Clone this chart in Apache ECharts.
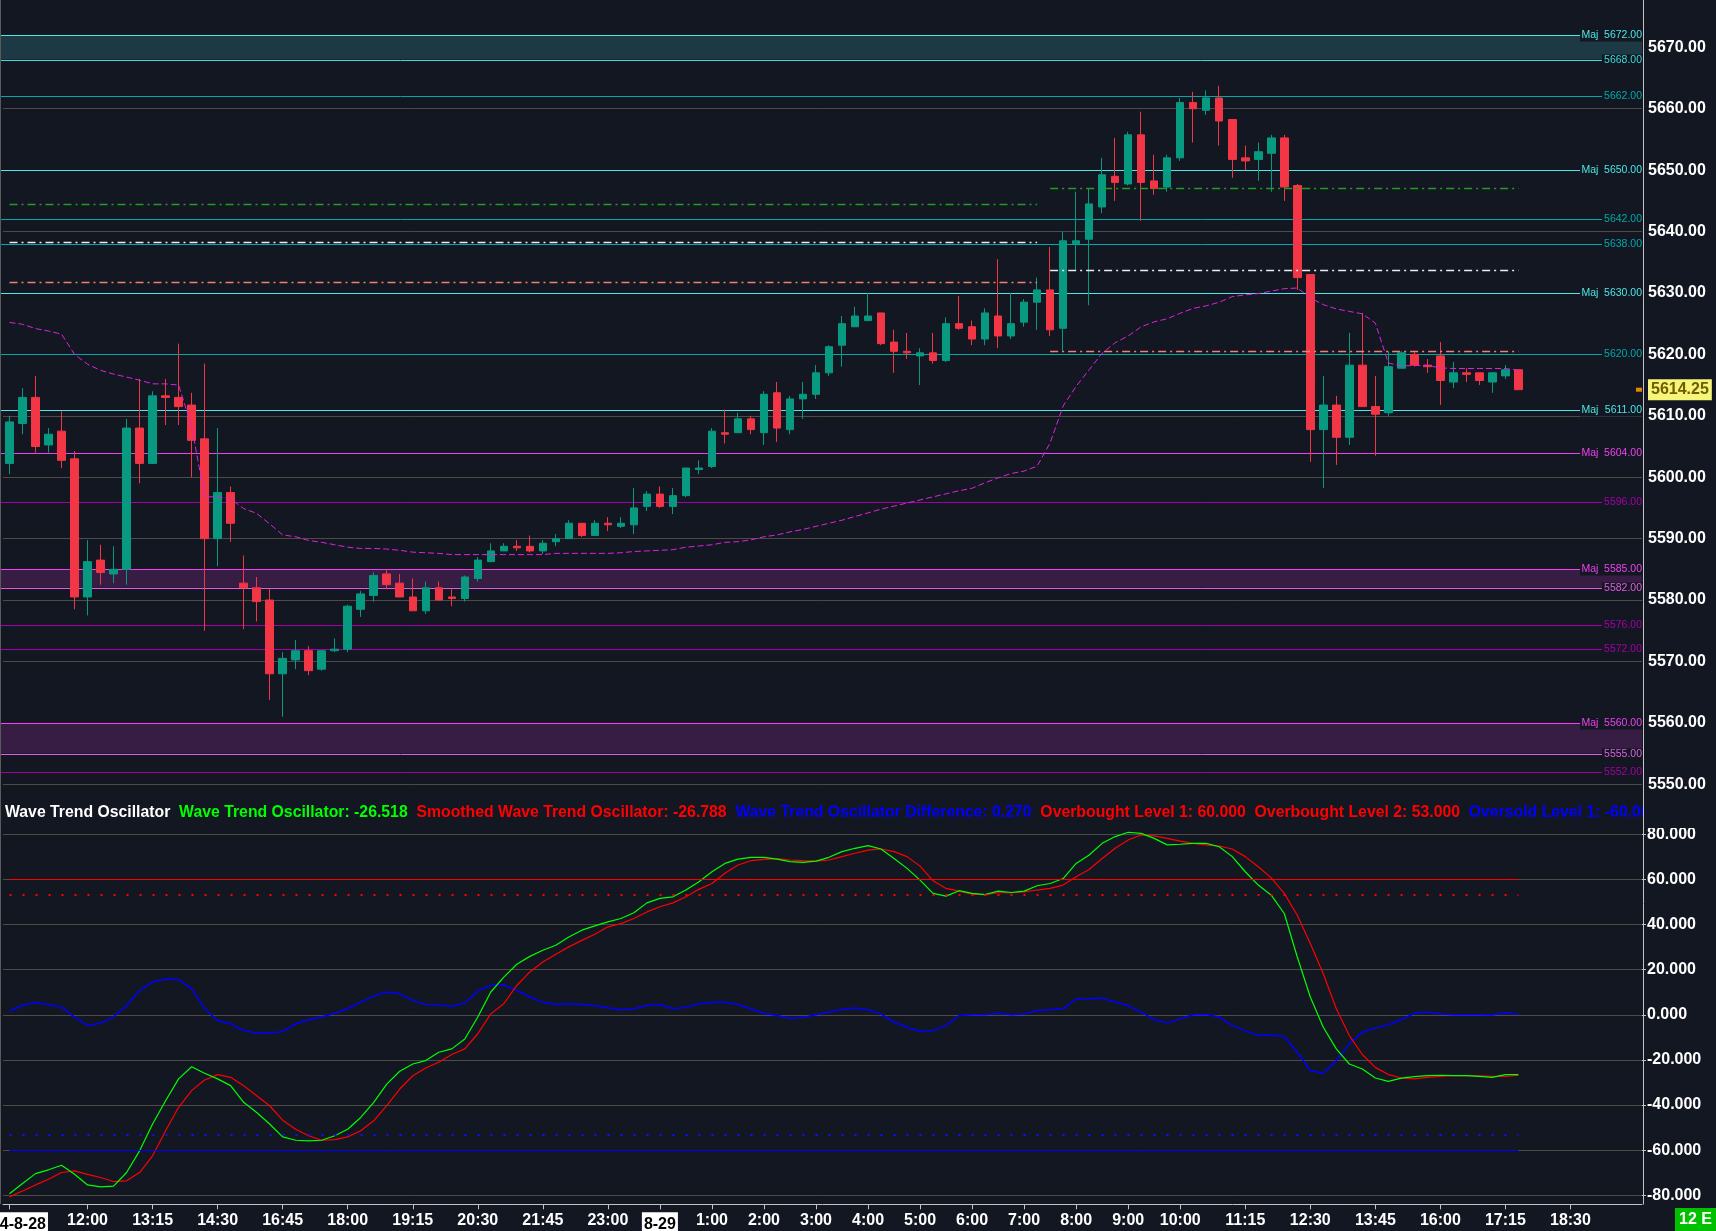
<!DOCTYPE html>
<html><head><meta charset="utf-8">
<script src="https://cdn.jsdelivr.net/npm/echarts@6/dist/echarts.min.js"></script>
<style>html,body{margin:0;padding:0;background:#131722;overflow:hidden}#c{width:1716px;height:1231px}</style>
</head><body><div id="c"></div>
<script>
// ---------- categories (15-min bars) ----------
const day28Times = ['10:30','10:45','11:00','11:15','11:30','11:45','12:00','12:15','12:30','12:45','13:00','13:15','13:30','13:45','14:00','14:15','14:30','14:45','16:00','16:15','16:30','16:45','17:00','17:15','17:30','17:45','18:00','18:15','18:30','18:45','19:00','19:15','19:30','19:45','20:00','20:15','20:30','20:45','21:00','21:15','21:30','21:45','22:00','22:15','22:30','22:45','23:00','23:15','23:30','23:45'];
const day29Times = ['0:00','0:15','0:30','0:45','1:00','1:15','1:30','1:45','2:00','2:15','2:30','2:45','3:00','3:15','3:30','3:45','4:00','4:15','4:30','4:45','5:00','5:15','5:30','5:45','6:00','6:15','6:30','6:45','7:00','7:15','7:30','7:45','8:00','8:15','8:30','8:45','9:00','9:15','9:30','9:45','10:00','10:15','10:30','10:45','11:00','11:15','11:30','11:45','12:00','12:15','12:30','12:45','13:00','13:15','13:30','13:45','14:00','14:15','14:30','14:45','16:00','16:15','16:30','16:45','17:00','17:15','17:30','17:45','18:00','18:15','18:30','18:45','19:00','19:15','19:30','19:45'];
const categories = day28Times.map(t => '8-28 ' + t).concat(day29Times.map(t => '8-29 ' + t));

// ---------- tick labels ----------
const xTickCats = ['8-28 10:30','8-28 12:00','8-28 13:15','8-28 14:30','8-28 16:45','8-28 18:00','8-28 19:15','8-28 20:30','8-28 21:45','8-28 23:00','8-29 0:00','8-29 1:00','8-29 2:00','8-29 3:00','8-29 4:00','8-29 5:00','8-29 6:00','8-29 7:00','8-29 8:00','8-29 9:00','8-29 10:00','8-29 11:15','8-29 12:30','8-29 13:45','8-29 16:00','8-29 17:15','8-29 18:30'];
const xTickTexts = ['2024-8-28','12:00','13:15','14:30','16:45','18:00','19:15','20:30','21:45','23:00','8-29','1:00','2:00','3:00','4:00','5:00','6:00','7:00','8:00','9:00','10:00','11:15','12:30','13:45','16:00','17:15','18:30'];

// ---------- OHLC ----------
const opens = [5602.25,5608.75,5613.0,5605.25,5607.5,5603.0,5580.5,5586.5,5584.25,5585.0,
5608.0,5602.25,5613.25,5613.0,5611.75,5606.25,5590.0,5597.5,5582.75,5582.0,
5580.0,5568.0,5570.25,5571.75,5568.75,5571.75,5572.0,5578.5,5580.75,5584.25,
5582.75,5580.5,5578.25,5582.0,5580.5,5580.25,5583.5,5586.25,5588.0,5588.75,
5588.75,5588.0,5589.5,5590.0,5592.5,5590.5,5592.5,5592.0,5592.25,5595.25,
5597.25,5595.25,5597.0,5601.25,5601.75,5607.25,5607.25,5609.5,5607.25,5613.75,
5607.75,5612.75,5613.5,5617.0,5621.5,5624.5,5625.5,5626.75,5622.0,5620.5,
5619.75,5620.25,5619.0,5625.0,5624.5,5622.5,5626.25,5623.0,5625.25,5628.5,
5630.5,5624.25,5638.0,5638.75,5644.0,5649.0,5647.75,5655.75,5648.25,5647.25,
5652.0,5661.0,5659.75,5661.75,5658.25,5652.0,5651.75,5652.75,5655.25,5647.5,
5633.0,5607.75,5611.75,5606.5,5618.25,5611.5,5610.5,5617.75,5620.0,5618.25,
5619.75,5615.5,5617.0,5617.0,5615.5,5616.5,5617.5];
const highs = [5610.0,5614.5,5616.5,5608.0,5610.75,5604.25,5589.75,5589.0,5588.75,5609.5,
5616.0,5614.0,5616.0,5621.75,5613.75,5618.5,5608.0,5598.5,5587.25,5583.75,
5581.75,5571.5,5573.5,5572.5,5571.75,5573.75,5579.25,5581.5,5584.5,5585.0,
5584.25,5583.5,5583.0,5583.0,5581.75,5584.0,5587.0,5589.25,5589.25,5589.75,
5590.5,5589.75,5590.75,5593.0,5592.5,5593.0,5593.5,5593.5,5598.25,5597.75,
5598.5,5598.25,5601.5,5602.75,5608.0,5611.0,5610.5,5610.0,5614.0,5615.5,
5613.25,5615.5,5618.25,5621.5,5626.25,5627.75,5630.0,5626.75,5624.0,5623.5,
5621.0,5623.5,5626.0,5629.5,5625.5,5627.5,5635.5,5630.0,5629.0,5632.5,
5637.5,5640.0,5646.5,5647.0,5652.0,5655.25,5656.25,5659.5,5652.5,5652.5,
5661.75,5662.75,5663.0,5663.75,5658.25,5654.0,5654.5,5655.75,5655.75,5647.75,
5633.0,5616.5,5613.25,5623.5,5626.75,5616.5,5620.5,5620.5,5620.5,5619.25,
5622.0,5618.75,5617.75,5617.0,5617.0,5618.25,5617.5];
const lows = [5600.5,5607.0,5604.0,5604.0,5601.5,5578.5,5577.5,5582.5,5582.75,5582.5,
5599.0,5602.25,5608.5,5608.5,5600.0,5575.0,5585.5,5589.5,5575.25,5576.5,
5563.75,5561.0,5568.75,5567.75,5568.5,5571.5,5571.5,5577.25,5579.75,5581.75,
5580.5,5578.25,5577.75,5580.0,5579.0,5579.75,5583.0,5586.25,5588.0,5588.0,
5587.75,5587.5,5588.75,5590.0,5590.25,5590.5,5591.25,5591.75,5590.75,5594.5,
5595.0,5594.0,5596.75,5600.5,5601.5,5605.5,5607.25,5607.0,5605.25,5605.75,
5607.0,5609.5,5612.75,5616.5,5618.0,5624.5,5625.5,5621.5,5617.0,5619.25,
5615.0,5618.5,5618.75,5624.0,5621.5,5621.5,5621.0,5622.5,5624.5,5624.0,
5623.0,5620.5,5633.75,5628.0,5643.0,5645.0,5647.5,5641.75,5646.0,5646.5,
5651.5,5654.5,5659.0,5654.0,5648.75,5650.0,5648.25,5646.5,5645.0,5630.5,
5602.5,5598.25,5602.0,5605.25,5611.5,5603.5,5610.0,5617.75,5618.0,5617.0,
5611.75,5614.5,5615.5,5615.0,5613.75,5616.0,5614.25];
const closes = [5609.0,5613.0,5605.0,5607.0,5602.75,5580.5,5586.25,5584.5,5585.0,5608.0,
5602.25,5613.25,5613.0,5611.5,5606.0,5590.0,5597.5,5592.5,5582.0,5579.75,
5568.0,5570.5,5571.75,5568.5,5571.75,5572.0,5579.0,5581.0,5584.0,5582.5,
5580.5,5578.25,5582.0,5580.0,5580.25,5583.75,5586.5,5588.0,5588.75,5588.5,
5588.0,5589.25,5590.0,5592.5,5590.5,5592.5,5592.25,5592.5,5595.0,5597.25,
5595.25,5597.0,5601.5,5601.5,5607.5,5607.0,5609.5,5607.75,5613.5,5608.0,
5612.75,5613.5,5617.0,5621.25,5625.0,5626.25,5626.25,5621.75,5620.5,5620.25,
5620.25,5619.0,5625.0,5624.25,5622.5,5626.75,5623.0,5625.0,5628.5,5630.5,
5624.0,5638.5,5638.5,5644.5,5649.25,5648.0,5655.75,5648.0,5647.0,5652.0,
5661.0,5660.0,5661.75,5658.0,5651.75,5651.5,5653.0,5655.25,5647.25,5632.5,
5607.75,5611.75,5606.5,5618.25,5611.5,5610.25,5618.0,5620.25,5618.25,5618.0,
5615.75,5617.0,5616.75,5615.75,5617.0,5617.5,5614.25];

// ---------- magenta dashed average line ----------
const avgLine = [5625.2,5624.9,5624.2,5623.8,5623.3,5620.0,5618.4,5617.4,5616.8,5616.3,
5615.8,5615.2,5615.2,5615.0,5608.3,5596.8,5596.8,5596.5,5594.9,5594.1,
5592.4,5590.6,5590.3,5589.7,5589.4,5589.0,5588.6,5588.4,5588.4,5588.3,
5588.1,5587.8,5587.7,5587.6,5587.4,5587.4,5587.4,5587.4,5587.4,5587.4,
5587.4,5587.4,5587.6,5587.6,5587.6,5587.6,5587.6,5587.7,5587.9,5588.0,
5588.1,5588.2,5588.6,5588.8,5589.0,5589.4,5589.5,5589.8,5590.3,5590.6,
5591.1,5591.5,5592.0,5592.5,5593.0,5593.6,5594.2,5594.8,5595.3,5595.8,
5596.3,5596.8,5597.3,5597.8,5598.2,5599.1,5599.9,5600.6,5601.0,5601.8,
5605.6,5611.6,5614.8,5617.5,5620.2,5621.9,5623.0,5624.5,5625.3,5625.8,
5626.7,5627.5,5627.9,5628.5,5629.4,5629.7,5629.9,5630.3,5630.7,5630.8,
5629.2,5628.1,5627.4,5627.0,5626.6,5625.1,5618.6,5618.1,5618.2,5618.2,
5617.8,5617.7,5617.7,5617.7,5617.7,5617.7,5617.4];

// ---------- horizontal levels ----------
const resLevels = [5672, 5668, 5662, 5650, 5642, 5638, 5630, 5620, 5611];
const resMajor  = [true, false, false, true, false, false, true, false, true];
const supLevels = [5604, 5596, 5585, 5582, 5576, 5572, 5560, 5555, 5552];
const supMajor  = [true, false, true, false, false, false, true, false, false];
const resZones = [[5668, 5672]];
const supZones = [[5582, 5585], [5555, 5560]];

// session dash-dot levels: [session1, session2]
const sessionStarts = ['8-28 10:30', '8-29 7:30'];
const sessionEnds   = ['8-29 7:15', '8-29 17:30'];
const greenLevels  = [5644.5, 5647.0];
const whiteLevels  = [5638.25, 5633.75];
const salmonLevels = [5631.75, 5620.5];

// ---------- Wave Trend Oscillator ----------
const wt1 = [-79.3,-74.8,-70.4,-68.7,-66.7,-70.7,-75.4,-76.3,-75.9,-69.9,
-60.3,-48.4,-38.1,-28.4,-23.0,-25.9,-28.4,-31.4,-38.8,-43.3,
-48.4,-54.1,-55.6,-55.9,-55.6,-53.6,-50.7,-45.5,-38.8,-30.7,
-25.0,-21.8,-20.3,-16.6,-15.1,-10.7,-1.0,10.1,16.7,22.4,
25.9,28.6,30.8,34.5,37.5,39.4,41.2,42.7,45.2,49.6,
51.6,52.3,55.3,59.0,63.4,67.1,69.0,69.8,69.8,69.0,
67.9,67.6,68.1,69.8,72.3,73.8,75.0,73.5,69.3,64.9,
59.7,53.8,52.6,55.0,53.8,53.3,54.8,54.2,54.8,57.2,
58.2,60.4,67.1,70.8,76.0,79.0,80.9,80.4,78.2,75.3,
75.6,76.0,76.0,74.5,70.1,63.4,57.5,53.0,44.9,25.6,
7.9,-5.5,-15.1,-21.8,-24.0,-28.0,-29.5,-28.1,-27.4,-27.0,
-26.8,-27.0,-27.0,-27.3,-27.7,-26.5,-26.518];
const wt2 = [-80.7,-78.1,-75.4,-72.9,-69.9,-69.2,-70.7,-72.1,-73.9,-73.6,
-69.9,-62.5,-51.4,-41.0,-33.6,-28.9,-26.5,-27.7,-31.4,-35.9,
-40.3,-46.7,-50.7,-53.6,-55.6,-55.3,-54.1,-51.4,-47.0,-40.3,
-32.9,-27.0,-23.6,-21.0,-17.6,-15.1,-8.4,0.4,4.9,13.0,
19.0,23.4,26.8,30.1,33.0,35.7,39.0,40.4,42.7,45.6,
47.9,49.6,52.3,55.6,58.2,62.7,66.4,68.3,68.9,69.2,
68.6,68.3,68.1,68.6,70.1,71.6,73.0,73.5,72.3,70.1,
65.9,59.4,56.0,54.8,53.5,53.3,54.1,54.1,54.5,55.3,
56.0,57.5,61.2,64.4,69.3,73.8,77.5,79.7,79.3,78.2,
77.0,76.0,75.3,74.8,73.5,70.1,65.6,60.7,53.8,44.1,
31.6,18.2,2.7,-9.2,-17.6,-23.3,-26.5,-28.0,-28.4,-27.7,
-27.3,-27.0,-27.0,-27.1,-27.3,-27.3,-26.788];
const wtDiff = [1.8,4.1,5.6,4.6,3.4,-1.0,-4.7,-3.7,-1.0,4.1,
10.8,14.5,15.9,15.6,11.6,2.7,-2.5,-4.0,-7.0,-8.1,
-8.1,-7.4,-4.0,-2.2,-1.0,0.7,2.7,5.6,8.3,10.1,
9.3,6.4,4.6,4.4,3.7,5.2,10.5,13.0,13.3,10.8,
7.9,5.6,4.6,4.9,4.6,4.1,3.1,2.2,2.7,4.1,
4.6,2.7,3.4,4.9,5.6,5.6,4.6,2.7,0.7,-0.3,
-1.5,-1.2,0,1.2,2.4,3.0,2.2,0.4,-3.3,-5.5,
-7.4,-7.0,-4.7,-0.3,0,0,0.7,0,0.4,1.9,
2.2,2.7,7.0,7.1,7.4,5.6,4.1,1.2,-2.1,-3.7,
-1.8,0,0.1,-1.0,-4.7,-7.0,-9.2,-8.9,-9.6,-16.6,
-24.7,-25.9,-20.3,-12.9,-7.7,-5.9,-4.4,-2.2,0.7,1.2,
0.4,0,0,0,-0.1,0.9,0.27];
const overboughtLevels = [60, 53];
const oversoldLevels = [-60, -53];

// ---------- styles ----------
const BG = '#131722';
const GRID = '#4e4a46';
const FONT = '"Liberation Sans", Arial, sans-serif';
const UP = '#089981', DOWN = '#f23645';

const candleData = opens.map((o, i) => [o, closes[i], lows[i], highs[i]]);
const lastClose = closes[closes.length - 1];

function inZone(p, zones) { return zones.some(z => p === z[0] || p === z[1]); }
const levelItems = [];
resLevels.forEach((p, i) => levelItems.push([0, p, resMajor[i] ? 1 : 0, inZone(p, resZones) ? 1 : 0, 0]));
supLevels.forEach((p, i) => levelItems.push([0, p, supMajor[i] ? 1 : 0, inZone(p, supZones) ? 1 : 0, 1]));
const zoneItems = resZones.map(z => [0, z[0], z[1], 0]).concat(supZones.map(z => [0, z[0], z[1], 1]));

function levelColor(side, major, edge) {
  if (side === 0) return major ? '#4ce6e6' : (edge ? '#3ad8d8' : '#00a9a9');
  return major ? '#f040f0' : (edge ? '#e05ce0' : '#a500a5');
}

function renderZone(params, api) {
  const cs = params.coordSys;
  const y1 = api.coord([0, api.value(2)])[1];
  const y2 = api.coord([0, api.value(1)])[1];
  return { type: 'rect', shape: { x: cs.x - 3, y: y1, width: cs.width + 3, height: y2 - y1 },
    style: { fill: api.value(3) === 0 ? '#1d3944' : '#371d43' } };
}
function renderLevel(params, api) {
  const cs = params.coordSys;
  const p = api.value(1), major = api.value(2), edge = api.value(3), side = api.value(4);
  const y = Math.round(api.coord([0, p])[1]) + 0.5;
  const right = cs.x + cs.width;
  const boxW = major ? 62 : 40;
  const col = levelColor(side, major, edge);
  const font = '10.5px ' + FONT;
  const children = [
    { type: 'line', shape: { x1: cs.x - 3, y1: y, x2: right - boxW, y2: y }, style: { stroke: col, lineWidth: 1 } },
    { type: 'rect', shape: { x: right - boxW, y: y - 6, width: boxW, height: 12 }, style: { fill: BG } },
    { type: 'text', style: { text: p.toFixed(2), x: right, y: y, align: 'right', verticalAlign: 'middle', fill: col, font: font } }
  ];
  if (major) children.push({ type: 'text', style: { text: 'Maj', x: right - boxW + 1.5, y: y, align: 'left', verticalAlign: 'middle', fill: col, font: font } });
  return { type: 'group', children: children };
}

function seg(start, end, v, color, type) {
  return [{ coord: [start, v], lineStyle: { color: color, width: 1.3, type: type } }, { coord: [end, v] }];
}
const dashDot = [8, 4, 2, 4];
const sessionSegs = [];
for (let s = 0; s < sessionStarts.length; s++) {
  sessionSegs.push(seg(sessionStarts[s], sessionEnds[s], greenLevels[s], '#1f9e1f', dashDot));
  sessionSegs.push(seg(sessionStarts[s], sessionEnds[s], whiteLevels[s], '#ececec', dashDot));
  sessionSegs.push(seg(sessionStarts[s], sessionEnds[s], salmonLevels[s], '#f08078', dashDot));
}
const firstCat = categories[0], lastBar = categories[closes.length - 1];
const oscSegs = [
  seg(firstCat, lastBar, overboughtLevels[0], '#ff0000', 'solid'),
  seg(firstCat, lastBar, overboughtLevels[1], '#ff0000', [2, 11]),
  seg(firstCat, lastBar, oversoldLevels[0], '#0000ff', 'solid'),
  seg(firstCat, lastBar, oversoldLevels[1], '#1010ff', [2, 11])
];
oscSegs.forEach(s => { s[0].lineStyle.width = s[0].lineStyle.type === 'solid' ? 1 : 2; });

const tickMap = {};
xTickCats.forEach((c, i) => { tickMap[c] = xTickTexts[i]; });
const tickIntervalFn = (idx, val) => tickMap[val] !== undefined;

const legendRich = '{w|Wave Trend Oscillator}  {g|Wave Trend Oscillator: ' + wt1[wt1.length - 1].toFixed(3) + '}  '
  + '{r|Smoothed Wave Trend Oscillator: ' + wt2[wt2.length - 1].toFixed(3) + '}  '
  + '{b|Wave Trend Oscillator Difference: ' + wtDiff[wtDiff.length - 1].toFixed(3) + '}  '
  + '{r|Overbought Level 1: ' + overboughtLevels[0].toFixed(3) + '}  '
  + '{r|Overbought Level 2: ' + overboughtLevels[1].toFixed(3) + '}  '
  + '{b|Oversold Level 1: ' + oversoldLevels[0].toFixed(3) + '}';
const legFont = { fontSize: 15.8, fontWeight: 'bold', fontFamily: FONT };

const chart = echarts.init(document.getElementById('c'), null, { renderer: 'canvas' });
const option = {
  backgroundColor: BG,
  animation: false,
  grid: [
    { left: 3, right: 74, top: -14.1, bottom: 385.3, containLabel: false, outerBoundsMode: 'none' },
    { left: 3, right: 74, top: 834.3, bottom: 35.7, containLabel: false, outerBoundsMode: 'none' }
  ],
  xAxis: [
    { type: 'category', gridIndex: 0, data: categories, show: false, boundaryGap: true },
    { type: 'category', gridIndex: 1, data: categories, boundaryGap: true, position: 'bottom', offset: 9,
      axisLine: { show: true, onZero: false, lineStyle: { color: '#c4c4c4', width: 1 } },
      axisTick: { show: true, interval: tickIntervalFn, alignWithLabel: true, length: 5, lineStyle: { color: '#c4c4c4' } },
      axisLabel: { interval: tickIntervalFn, color: '#ffffff', fontSize: 16, fontWeight: 'bold', fontFamily: FONT, margin: 8,
        formatter: (val) => { const t = tickMap[val] || ''; return t.indexOf('-') >= 0 ? '{d|' + t + '}' : t; },
        rich: { d: { backgroundColor: '#ffffff', color: '#000000', fontSize: 16, fontWeight: 'bold', fontFamily: FONT, padding: [4, 2, 6, 2] } } },
      splitLine: { show: false } }
  ],
  yAxis: [
    { type: 'value', gridIndex: 0, position: 'right', min: 5540, max: 5680, interval: 10, scale: true,
      axisLine: { show: false }, axisTick: { show: false },
      axisLabel: { color: '#ffffff', fontSize: 16, fontWeight: 'bold', fontFamily: FONT, margin: 6, showMinLabel: false, showMaxLabel: false,
        formatter: v => v.toFixed(2) },
      splitLine: { show: true, showMinLine: false, showMaxLine: false, lineStyle: { color: GRID, width: 1 } } },
    { type: 'value', gridIndex: 1, position: 'right', min: -80, max: 80, interval: 20,
      axisLine: { show: false }, axisTick: { show: true, length: 4, lineStyle: { color: '#c4c4c4' } },
      axisLabel: { color: '#ffffff', fontSize: 16, fontWeight: 'bold', fontFamily: FONT, margin: 5, formatter: v => v.toFixed(3) },
      splitLine: { show: true, lineStyle: { color: GRID, width: 1 } } }
  ],
  series: [
    { type: 'custom', name: 'zones', xAxisIndex: 0, yAxisIndex: 0, data: zoneItems, renderItem: renderZone, z: 1, silent: true },
    { type: 'custom', name: 'levels', xAxisIndex: 0, yAxisIndex: 0, data: levelItems, renderItem: renderLevel, z: 2, silent: true },
    { type: 'candlestick', name: 'price', xAxisIndex: 0, yAxisIndex: 0, data: candleData, barWidth: 8, z: 3,
      itemStyle: { color: UP, color0: DOWN, borderColor: UP, borderColor0: DOWN, borderWidth: 1 },
      markLine: { silent: true, symbol: ['none', 'none'], animation: false,
        data: [{ yAxis: lastClose, lineStyle: { width: 0, color: 'rgba(0,0,0,0)' },
          label: { show: true, position: 'end', distance: 6, formatter: lastClose.toFixed(2), backgroundColor: '#f5f57a', color: '#6e5c00',
            fontSize: 16, fontWeight: 'bold', fontFamily: FONT, padding: [3, 3, 2, 3] } }] } },
    { type: 'line', name: 'avg', xAxisIndex: 0, yAxisIndex: 0, data: avgLine, symbol: 'none', z: 4, clip: false,
      lineStyle: { color: '#e020e0', width: 1, type: [6, 3] },
      markLine: { silent: true, symbol: ['none', 'none'], label: { show: false }, animation: false, data: sessionSegs } },
    { type: 'line', name: 'diff', xAxisIndex: 1, yAxisIndex: 1, data: wtDiff, symbol: 'none', clip: false, z: 2,
      lineStyle: { color: '#0000ff', width: 1.5 },
      markLine: { silent: true, symbol: ['none', 'none'], label: { show: false }, animation: false, data: oscSegs } },
    { type: 'line', name: 'wt2', xAxisIndex: 1, yAxisIndex: 1, data: wt2, symbol: 'none', clip: false, z: 3,
      lineStyle: { color: '#ff0000', width: 1.2 } },
    { type: 'line', name: 'wt1', xAxisIndex: 1, yAxisIndex: 1, data: wt1, symbol: 'none', clip: false, z: 4,
      lineStyle: { color: '#00ff00', width: 1.2 } }
  ],
  graphic: [
    { type: 'line', id: 'lb', shape: { x1: 0.5, y1: 0, x2: 0.5, y2: 1204 }, style: { stroke: '#5a5a5a', lineWidth: 1 }, z: 50 },
    { type: 'text', id: 'leg', x: 5, y: 813, z: 50,
      style: { text: legendRich, verticalAlign: 'middle', font: 'bold 15.8px ' + FONT,
        rich: { w: Object.assign({ fill: '#ffffff' }, legFont), g: Object.assign({ fill: '#00ff00' }, legFont),
                r: Object.assign({ fill: '#ff0000' }, legFont), b: Object.assign({ fill: '#0000ff' }, legFont) } } },
    { type: 'rect', id: 'clip', shape: { x: 1644, y: 798, width: 72, height: 30 }, style: { fill: BG }, z: 51 },
    { type: 'line', id: 'rb', shape: { x1: 1643.5, y1: 0, x2: 1643.5, y2: 1204.5 }, style: { stroke: '#c4c4c4', lineWidth: 1 }, z: 52 },
    { type: 'rect', id: 'eb', shape: { x: 1675, y: 1208, width: 41, height: 23 }, style: { fill: '#00c000' }, z: 52 },
    { type: 'text', id: 'et', x: 1695.5, y: 1220, z: 53, style: { text: '12 E', align: 'center', verticalAlign: 'middle', fill: '#ffffff', font: 'bold 16px ' + FONT } }
  ]
};
chart.setOption(option);
const yLast = chart.convertToPixel({ yAxisIndex: 0 }, lastClose);
chart.setOption({ graphic: [{ type: 'rect', id: 'om', shape: { x: 1636, y: yLast - 2, width: 6, height: 4 }, style: { fill: '#e08a00' }, z: 52 }] });
</script></body></html>
